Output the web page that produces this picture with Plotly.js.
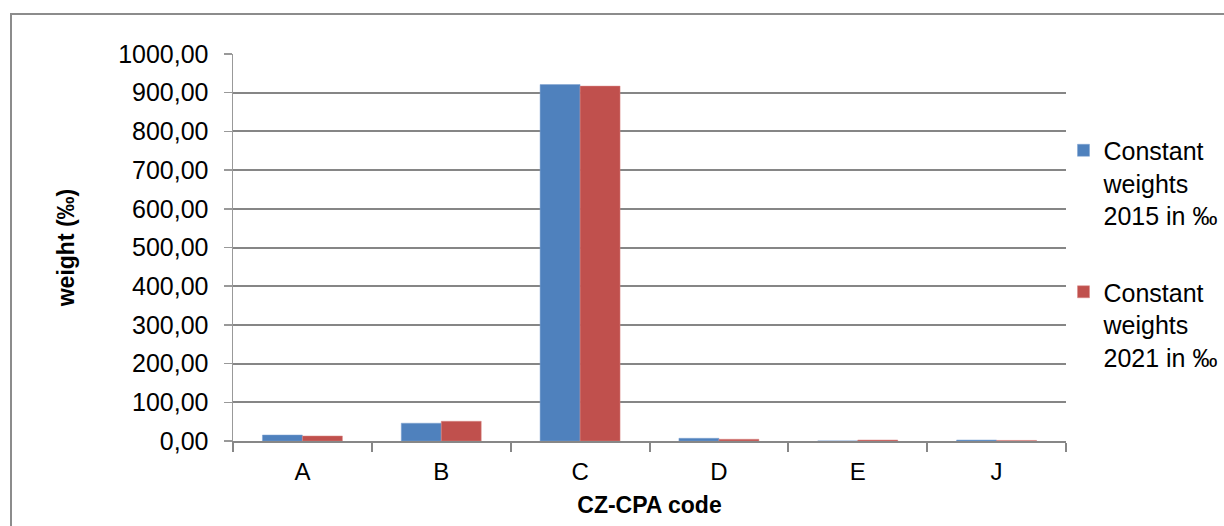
<!DOCTYPE html>
<html>
<head>
<meta charset="utf-8">
<script src="https://cdn.plot.ly/plotly-3.0.1.min.js"></script>
<style>
html,body{margin:0;padding:0;background:#fff;}
#frame{position:absolute;left:10px;top:13px;width:1300px;height:600px;border:2px solid #8c8c8c;box-sizing:border-box;}
#chart{position:absolute;left:0;top:0;width:1224px;height:526px;}
</style>
</head>
<body>
<div id="frame"></div>
<div id="chart"></div>
<script>
const categories = ["A", "B", "C", "D", "E", "J"];
const weights2015 = [15.5, 46, 921, 7, 0.3, 2.5];
const weights2021 = [13, 51, 917, 4.5, 2.5, 1.5];
const seriesNames = ["Constant<br>weights<br>2015 in ‰", "Constant<br>weights<br>2021 in ‰"];
const yTicks = [0, 100, 200, 300, 400, 500, 600, 700, 800, 900, 1000];

const font = "Liberation Sans, Arial, sans-serif";
const data = [
  {type: "bar", x: categories, y: weights2015, name: seriesNames[0], legendgroup: "a",
   marker: {color: "#4F81BD", line: {color: "#7FA3D1", width: 0.5}}},
  {type: "bar", x: categories, y: weights2021, name: seriesNames[1], legendgroup: "b",
   marker: {color: "#C0504D", line: {color: "#D98886", width: 0.5}}}
];
const layout = {
  width: 1224, height: 526,
  paper_bgcolor: "rgba(0,0,0,0)", plot_bgcolor: "rgba(0,0,0,0)",
  margin: {l: 233, r: 158, t: 54, b: 85, autoexpand: false},
  separators: ",.",
  barmode: "group", bargap: 0.424, bargroupgap: 0,
  font: {family: font, size: 25, color: "#000"},
  showlegend: true,
  legend: {x: 0.997, y: 0.81, xanchor: "left", yanchor: "top", tracegroupgap: 41,
           font: {family: font, size: 25, color: "#000"}, valign: "top", itemwidth: 30},
  xaxis: {
    type: "category", tickson: "boundaries", ticks: "outside", ticklen: 9,
    tickcolor: "#878787", tickwidth: 2, showline: true, linecolor: "#878787", linewidth: 2,
    showgrid: false, tickfont: {family: font, size: 24}, ticklabelstandoff: 8,
    title: {text: "<b>CZ-CPA code</b>", font: {family: font, size: 23}, standoff: 13}
  },
  yaxis: {
    range: [0, 1000], tickvals: yTicks, tickformat: ".2f",
    ticks: "outside", ticklen: 8, tickcolor: "#999999", tickwidth: 1.5,
    showline: true, linecolor: "#999999", linewidth: 1.5,
    showgrid: true, gridcolor: "#868686", gridwidth: 2, zeroline: false,
    tickfont: {family: font, size: 25}, ticklabelstandoff: 10,
    title: {text: "<b>weight (‰)</b>", font: {family: font, size: 23}, standoff: 37}
  }
};
Plotly.newPlot("chart", data, layout, {displayModeBar: false, staticPlot: true});
</script>
</body>
</html>
